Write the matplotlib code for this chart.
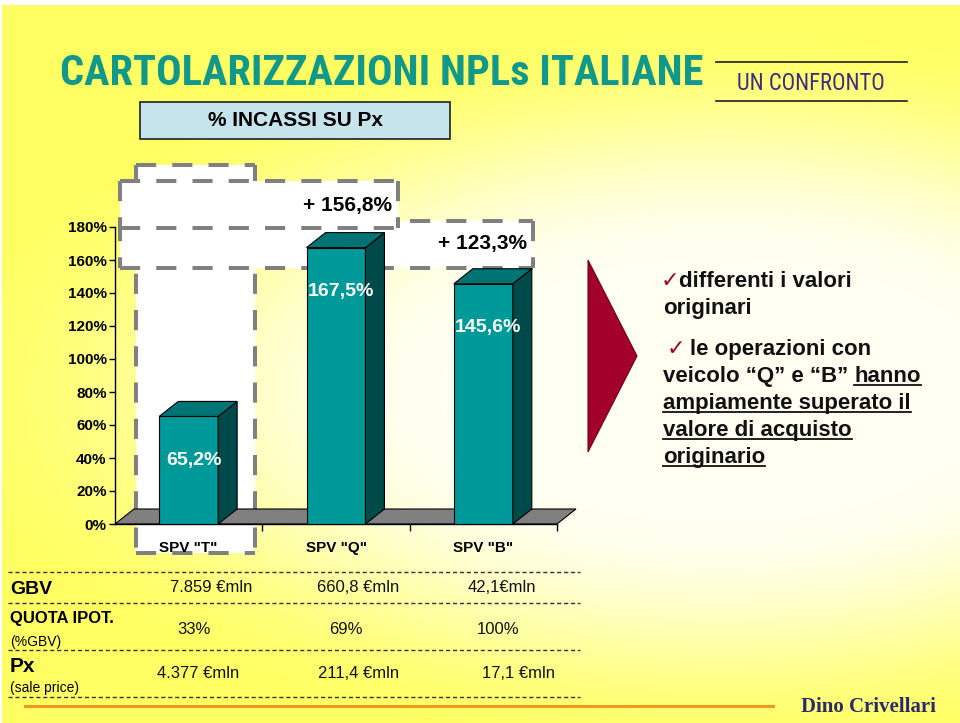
import os
import numpy as np
import matplotlib
matplotlib.use('Agg')
import matplotlib.pyplot as plt
from matplotlib import font_manager
from matplotlib.font_manager import FontProperties
from matplotlib.patches import Rectangle, Polygon

# ---------------- data ----------------
categories = ['SPV "T"', 'SPV "Q"', 'SPV "B"']
incassi_pct = [65.2, 167.5, 145.6]
bar_labels = ['65,2%', '167,5%', '145,6%']
growth_labels = ['+ 156,8%', '+ 123,3%']
y_ticks = [0, 20, 40, 60, 80, 100, 120, 140, 160, 180]
row_headers = ['GBV', 'QUOTA IPOT.', 'Px']
row_subheaders = ['', '(%GBV)', '(sale price)']
gbv_values = ['7.859 €mln', '660,8 €mln', '42,1€mln']
quota_values = ['33%', '69%', '100%']
px_values = ['4.377 €mln', '211,4 €mln', '17,1 €mln']
title_text = 'CARTOLARIZZAZIONI NPLs ITALIANE'
subtitle_text = 'UN CONFRONTO'
box_text = '% INCASSI SU Px'
signature = 'Dino Crivellari'

# ---------------- fonts / colours ----------------
SANS = 'Liberation Sans'
SERIF = 'Liberation Serif'


def find_condensed(bold):
    entries = []
    for f in font_manager.fontManager.ttflist:
        b = os.path.basename(f.fname).lower()
        if 'narrow' in b or 'condensed' in b or 'cond' in b:
            if 'italic' in b or 'oblique' in b:
                continue
            entries.append((b, f))
    prefs = ['liberationsansnarrow', 'robotocondensed', 'opensanscondensed',
             'opensans_condensed', 'dejavusanscondensed', 'notosans', 'inter', '']
    for p in prefs:
        group = [(b, f) for b, f in entries if b.replace('-', '').replace(' ', '').startswith(p) or (p and p in b.replace('-', ''))]
        if not group:
            continue
        if bold:
            g2 = [(b, f) for b, f in group if 'bold' in b and 'semi' not in b and 'extra' not in b]
        else:
            g2 = [(b, f) for b, f in group if 'bold' not in b and 'light' not in b and 'thin' not in b
                  and 'medium' not in b and 'black' not in b]
        if g2:
            return g2[0][1].fname
        return group[0][1].fname
    return None


cond_bold = find_condensed(True)
cond_reg = find_condensed(False)

TEAL_TITLE = '#10998A'
FRONT, TOP, SIDE = '#009999', '#007474', '#004A4A'
DASH_GRAY = '#808080'
RED = '#A3002B'

W, H = 960, 723
fig = plt.figure(figsize=(W / 100, H / 100), dpi=100)

# background axes in pixel coordinates
bg = fig.add_axes([0, 0, 1, 1])
yy, xx = np.mgrid[0:H, 0:W]
r = np.sqrt(((xx - 720) / 700.0) ** 2 + ((yy - 390) / 330.0) ** 2)
t = np.clip((r - 0.40) / (1.12 - 0.40), 0, 1)
t = t * t * (3 - 2 * t)
pale = np.array([255, 255, 242]) / 255.0
yellow = np.array([255, 255, 100]) / 255.0
img = pale[None, None, :] * (1 - t[..., None]) + yellow[None, None, :] * t[..., None]
img[:5, :, :] = 1.0
img[:, :2, :] = 1.0
bg.imshow(img, extent=[0, W, H, 0], aspect='auto', zorder=0, interpolation='bilinear')
bg.set_xlim(0, W)
bg.set_ylim(H, 0)
bg.axis('off')


def dline(x0, y0, x1, y1, z):
    bg.plot([x0, x1], [y0, y1], color=DASH_GRAY, lw=2.9, ls=(0, (5, 4)),
            dash_capstyle='butt', solid_capstyle='butt', zorder=z)


# T column dashed box
bg.add_patch(Rectangle((136, 165), 119, 388, fc='white', ec='none', zorder=1))
dline(136, 165, 255, 165, 1.2)
dline(136, 165, 136, 553, 1.2)
dline(255, 165, 255, 553, 1.2)
dline(136, 553, 255, 553, 1.2)
# box around +123,3%
bg.add_patch(Rectangle((120, 221), 413, 47, fc='white', ec='none', zorder=2))
dline(120, 221, 533, 221, 2.2)
dline(533, 221, 533, 268, 2.2)
dline(120, 268, 533, 268, 2.2)
dline(120, 221, 120, 268, 2.2)
# box around +156,8%
bg.add_patch(Rectangle((120, 181), 278, 47, fc='white', ec='none', zorder=3))
dline(120, 181, 398, 181, 3.2)
dline(398, 181, 398, 228, 3.2)
dline(120, 228, 398, 228, 3.2)
dline(120, 181, 120, 228, 3.2)

bg.text(392, 205, growth_labels[0], ha='right', va='center', fontsize=15,
        fontweight='bold', family=SANS, zorder=4)
bg.text(527, 243, growth_labels[1], ha='right', va='center', fontsize=15,
        fontweight='bold', family=SANS, zorder=4)

# ---------------- titles ----------------
fig.canvas.draw()
renderer = fig.canvas.get_renderer()
inv = bg.transData.inverted()


def width_px(txt):
    e = txt.get_window_extent(renderer)
    return e.x1 - e.x0


if cond_bold:
    tfp = FontProperties(fname=cond_bold, size=32)
else:
    tfp = FontProperties(family=SANS, weight='bold', size=32)
tt = bg.text(60, 85, title_text, fontproperties=tfp, color=TEAL_TITLE,
             va='baseline', ha='left', zorder=4)
tt.set_fontsize(32 * 644.0 / width_px(tt))

if cond_reg:
    sfp = FontProperties(fname=cond_reg, size=13)
else:
    sfp = FontProperties(family=SANS, size=13)
st = bg.text(811, 83, subtitle_text, fontproperties=sfp, color='#3B2C7E',
             va='center', ha='center', zorder=4)
st.set_fontsize(13 * 147.0 / width_px(st))
bg.plot([716, 907], [62, 62], color='#202020', lw=1.2, zorder=4)
bg.plot([716, 907], [101, 101], color='#202020', lw=1.2, zorder=4)

bg.add_patch(Rectangle((140, 102), 310, 37, fc='#C5E4EB', ec='#202020', lw=1.2, zorder=4))
bg.text(295, 121, box_text, ha='center', va='center', fontsize=15, fontweight='bold',
        family=SANS, zorder=5)

# ---------------- chart ----------------
ax = fig.add_axes([115 / W, 1 - 524 / H, (557 - 115) / W, (524 - 227) / H])
ax.patch.set_visible(False)
ax.set_xlim(-0.5, 2.5)
ax.set_ylim(0, 180)
for s in ['top', 'right']:
    ax.spines[s].set_visible(False)
for s in ['left', 'bottom']:
    ax.spines[s].set_color('black')
    ax.spines[s].set_linewidth(1.0)

ax_w_px = 557 - 115
ax_h_px = 524 - 227
dx = 19.0 / (ax_w_px / 3.0)
dy = 15.0 / (ax_h_px / 180.0)
bw = 0.4
xs = np.arange(len(categories))

ax.add_patch(Polygon([(-0.5, 0), (2.5, 0), (2.5 + dx, dy), (-0.5 + dx, dy)], closed=True,
                     fc='#808080', ec='black', lw=0.8, clip_on=False, zorder=1))
ax.bar(xs, incassi_pct, width=bw, color=FRONT, edgecolor='black', linewidth=0.8, zorder=3)
for x, v, lab in zip(xs, incassi_pct, bar_labels):
    xl, xr = x - bw / 2, x + bw / 2
    ax.add_patch(Polygon([(xr, 0), (xr + dx, dy), (xr + dx, v + dy), (xr, v)], closed=True,
                         fc=SIDE, ec='black', lw=0.8, clip_on=False, zorder=3))
    ax.add_patch(Polygon([(xl, v), (xr, v), (xr + dx, v + dy), (xl + dx, v + dy)], closed=True,
                         fc=TOP, ec='black', lw=0.8, clip_on=False, zorder=3))
    ax.annotate(lab, xy=(x, v), xytext=(5, -44), textcoords='offset pixels',
                ha='center', va='center', color='white', fontsize=14,
                fontweight='bold', family=SANS, zorder=5)

ax.set_yticks(y_ticks)
ax.set_yticklabels([f'{v}%' for v in y_ticks], fontsize=11, fontweight='bold', family=SANS)
ax.tick_params(axis='y', direction='out', length=4, width=1, pad=2, colors='black')
ax.set_xticks(xs)
ax.set_xticklabels(categories, fontsize=11, fontweight='bold', family=SANS)
ax.tick_params(axis='x', which='major', length=0, pad=12)
ax.set_xticks([0.5, 1.5, 2.5], minor=True)
ax.tick_params(axis='x', which='minor', direction='out', length=5, width=1)

# ---------------- arrow triangle ----------------
bg.add_patch(Polygon([(588, 260), (637, 356), (588, 452)], closed=True, fc=RED, ec='#70001C',
                     lw=0.8, zorder=4))

# ---------------- right notes ----------------
FS = 16
CHK = dict(color=RED, fontsize=16, family=['DejaVu Sans'], va='baseline', ha='left', zorder=5)
TXT = dict(fontsize=FS, fontweight='bold', family=SANS, va='baseline', ha='left',
           color='#111111', zorder=5)

bg.text(661, 287, '✓', **CHK)
bg.text(679, 287, 'differenti i valori', **TXT)
bg.text(663, 314, 'originari', **TXT)
bg.text(667, 355, '✓', **CHK)
bg.text(690, 355, 'le operazioni con', **TXT)
pre = bg.text(663, 382, 'veicolo “Q” e “B” ', **TXT)
fig.canvas.draw()
renderer = fig.canvas.get_renderer()
pre_ext = pre.get_window_extent(renderer)
hx = inv.transform((pre_ext.x1, 0))[0]
under = [bg.text(hx, 382, 'hanno', **TXT),
         bg.text(663, 409, 'ampiamente superato il', **TXT),
         bg.text(663, 436, 'valore di acquisto', **TXT),
         bg.text(663, 463, 'originario', **TXT)]
fig.canvas.draw()
renderer = fig.canvas.get_renderer()
for u in under:
    e = u.get_window_extent(renderer)
    x0 = inv.transform((e.x0, 0))[0]
    x1 = inv.transform((e.x1, 0))[0]
    yb = u.get_position()[1] + 3
    bg.plot([x0, x1], [yb, yb], color='#111111', lw=1.3, zorder=5)

# ---------------- bottom table ----------------
for yl in [572, 603, 650, 697]:
    bg.plot([8, 580], [yl, yl], color='#333333', lw=1.0, ls=(0, (3, 2)), zorder=4)
bg.plot([25, 773], [706, 706], color='#EE9A22', lw=2.2, zorder=4)

bg.text(10, 589, row_headers[0], fontsize=14, fontweight='bold', family=SANS, va='center', zorder=5)
bg.text(10, 619, row_headers[1], fontsize=12, fontweight='bold', family=SANS, va='center', zorder=5)
bg.text(10, 642, row_subheaders[1], fontsize=10, family=SANS, va='center', zorder=5)
bg.text(10, 667, row_headers[2], fontsize=15, fontweight='bold', family=SANS, va='center', zorder=5)
bg.text(10, 688, row_subheaders[2], fontsize=10, family=SANS, va='center', zorder=5)

for vals, xpos, ypos in [(gbv_values, [211, 358, 502], 587),
                         (quota_values, [194, 346, 498], 629),
                         (px_values, [198, 359, 518], 673)]:
    for v, xp in zip(vals, xpos):
        bg.text(xp, ypos, v, fontsize=12, family=SANS, ha='center', va='center',
                color='#111111', zorder=5)

bg.text(868, 707, signature, fontsize=15, fontweight='bold', family=SERIF,
        color='#2B2B6B', ha='center', va='center', zorder=5)

fig.savefig('out.png', dpi=100)
